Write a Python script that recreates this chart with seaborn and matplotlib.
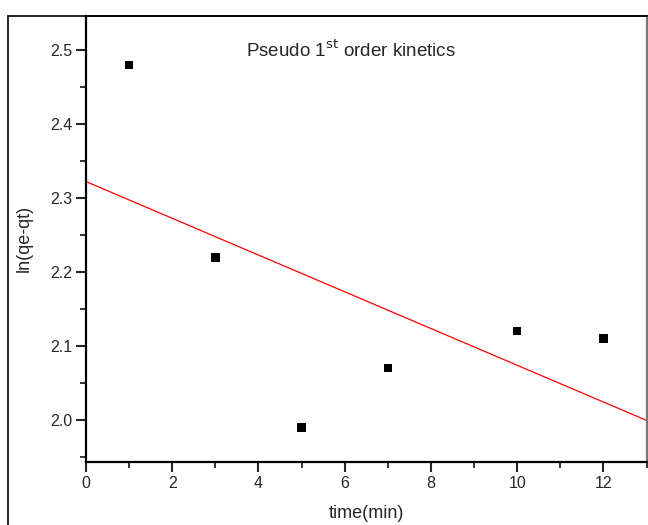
"""Pseudo first-order kinetics plot."""
import matplotlib
matplotlib.use("Agg")
import matplotlib.pyplot as plt
from matplotlib.lines import Line2D
from matplotlib.ticker import MultipleLocator, FormatStrFormatter
import pandas as pd
import seaborn as sns

time_min = [1, 3, 5, 7, 10, 12]
ln_qe_qt = [2.48, 2.22, 1.99, 2.07, 2.12, 2.11]

sns.set_style("ticks")
plt.rcParams["font.family"] = ["Liberation Sans", "DejaVu Sans"]
TXT = "#262626"

df = pd.DataFrame({"time": time_min, "lnq": ln_qe_qt})

fig = plt.figure(figsize=(6.48, 5.25), dpi=100)
ax = fig.add_axes([86 / 648, 63 / 525, (646.5 - 86) / 648, (462 - 15.5) / 525])
ax.set_xlim(0, 13)
ax.set_ylim(1.943, 2.547)

# linear fit, drawn across the whole x range
sns.regplot(data=df, x="time", y="lnq", scatter=False, ci=None, truncate=False,
            ax=ax, line_kws=dict(color="red", lw=0.9))
sns.scatterplot(data=df, x="time", y="lnq", marker="s", s=38, color="black",
                edgecolor="none", ax=ax, zorder=3)
ax.set_xlim(0, 13)
ax.set_ylim(1.943, 2.547)

ax.xaxis.set_major_locator(MultipleLocator(2))
ax.xaxis.set_minor_locator(MultipleLocator(1))
ax.yaxis.set_major_locator(MultipleLocator(0.1))
ax.yaxis.set_minor_locator(MultipleLocator(0.05))
ax.yaxis.set_major_formatter(FormatStrFormatter("%.1f"))
ax.tick_params(which="major", direction="out", length=7, width=1.5, labelsize=11.5,
               labelcolor=TXT, pad=3)
ax.tick_params(which="minor", direction="out", length=4, width=1.3)

for side in ("left", "bottom"):
    ax.spines[side].set_linewidth(1.6)
    ax.spines[side].set_color("black")
ax.spines["top"].set_visible(True)
ax.spines["top"].set_linewidth(1.2)
ax.spines["right"].set_visible(True)
ax.spines["right"].set_color("#777777")
ax.spines["right"].set_linewidth(1.6)

ax.set_xlabel("time(min)", fontsize=13, color=TXT, labelpad=10)
ax.set_ylabel("ln(qe-qt)", fontsize=13, color=TXT, labelpad=12)
ax.text(6.15, 2.500, r"Pseudo 1$^{\mathrm{st}}$ order kinetics", ha="center",
        va="center", fontsize=13.5, color=TXT)

# outer frame of the original screenshot (left and top edges)
fig.add_artist(Line2D([7.5 / 648, 7.5 / 648], [0, 1 - 15.5 / 525],
                      transform=fig.transFigure, color="black", lw=1.2))
fig.add_artist(Line2D([7.5 / 648, 646.5 / 648], [1 - 15.5 / 525, 1 - 15.5 / 525],
                      transform=fig.transFigure, color="black", lw=1.2))

fig.savefig("out.png", dpi=100)
plt.close(fig)
